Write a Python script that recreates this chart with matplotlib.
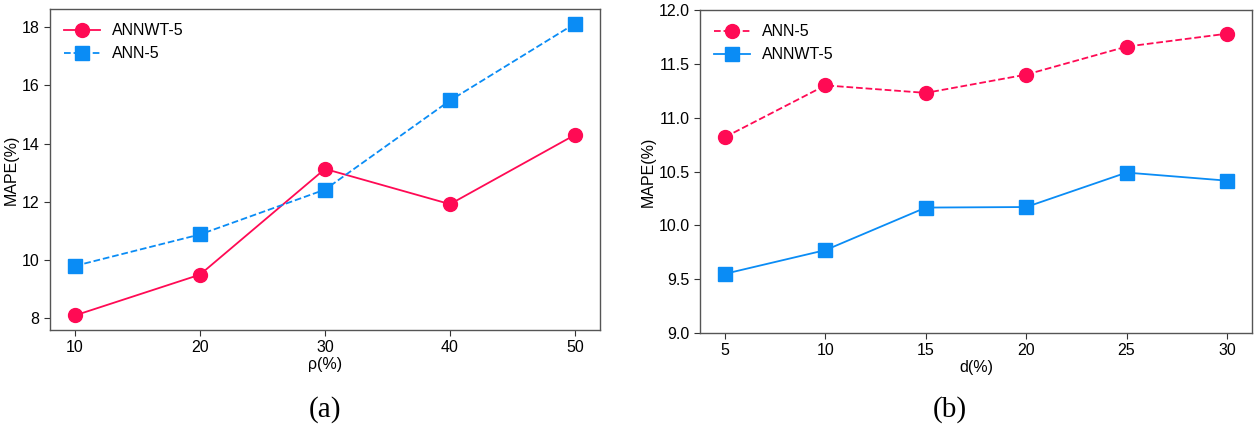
import numpy as np
import matplotlib.pyplot as plt

plt.rcParams['font.family'] = ['Liberation Sans', 'DejaVu Sans']

# (a) data
rho = [10, 20, 30, 40, 50]
a_annwt = [8.1, 9.5, 13.13, 11.92, 14.3]
a_ann = [9.8, 10.88, 12.42, 15.48, 18.12]

# (b) data
d = [5, 10, 15, 20, 25, 30]
b_ann = [10.82, 11.30, 11.23, 11.40, 11.66, 11.78]
b_annwt = [9.55, 9.77, 10.165, 10.17, 10.49, 10.415]

red = '#FF0A54'
blue = '#0A8CF5'

fig = plt.figure(figsize=(12.54, 4.32), dpi=100)
ax1 = fig.add_axes([50/1254, 1-330/432, 550/1254, 321/432])
ax2 = fig.add_axes([700/1254, 1-333/432, 552/1254, 323/432])

ax1.plot(rho, a_annwt, color=red, lw=1.3, marker='o', ms=10, label='ANNWT-5')
ax1.plot(rho, a_ann, color=blue, lw=1.3, ls='--', marker='s', ms=10, label='ANN-5')
ax1.set_xticks(rho)
ax1.set_yticks([8, 10, 12, 14, 16, 18])
ax1.set_xlabel('ρ(%)', fontsize=11.5, labelpad=1)
ax1.set_ylabel('MAPE(%)', fontsize=11.5, labelpad=2)

ax2.plot(d, b_ann, color=red, lw=1.3, ls='--', marker='o', ms=10, label='ANN-5')
ax2.plot(d, b_annwt, color=blue, lw=1.3, marker='s', ms=10, label='ANNWT-5')
ax2.set_xticks(d)
ax2.set_ylim(9.0, 12.0)
ax2.set_yticks(np.arange(9.0, 12.01, 0.5))
ax2.set_xlabel('d(%)', fontsize=11.5, labelpad=1)
ax2.set_ylabel('MAPE(%)', fontsize=11.5, labelpad=2)

for ax in (ax1, ax2):
    ax.tick_params(labelsize=11.5, length=4, color='#333333')
    for sp in ax.spines.values():
        sp.set_color('#555555')
        sp.set_linewidth(1.0)
    ax.legend(loc='upper left', frameon=False, fontsize=11.5, handlelength=2.2)

fig.text(325/1254, 1-410/432, '(a)', fontsize=21, family='Liberation Serif', ha='center', va='center')
fig.text(950/1254, 1-410/432, '(b)', fontsize=21, family='Liberation Serif', ha='center', va='center')

fig.savefig('out.png', dpi=100)
